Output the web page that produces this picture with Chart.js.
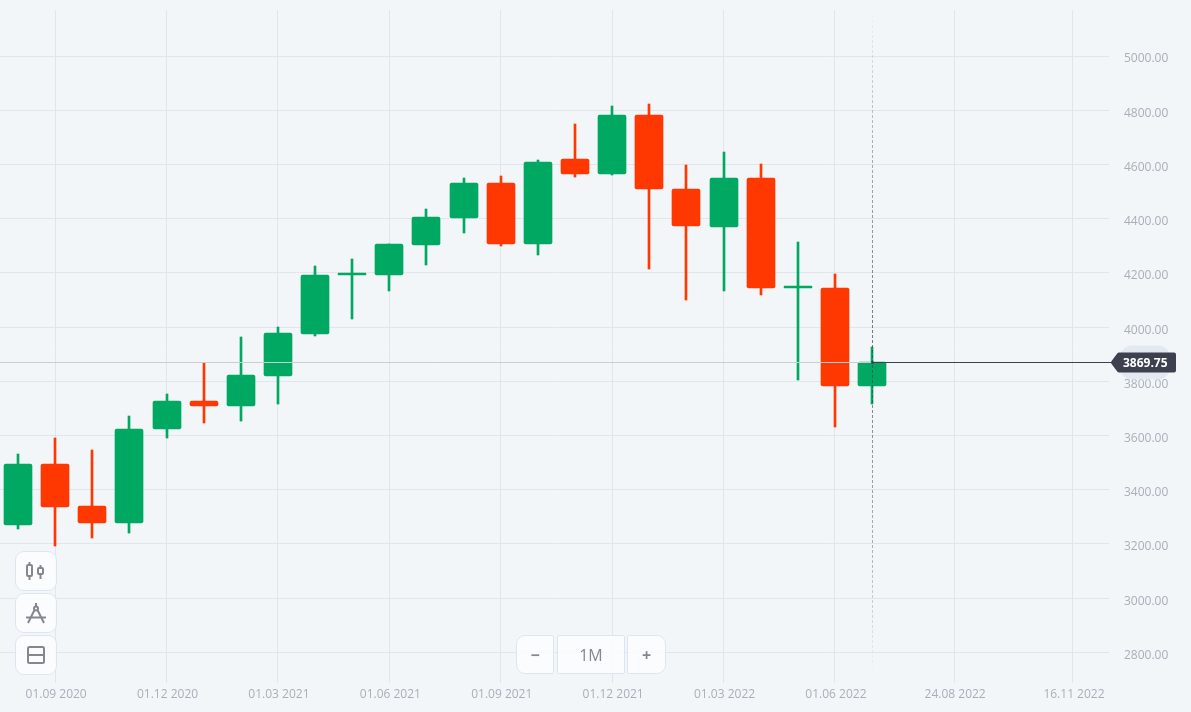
<!DOCTYPE html>
<html>
<head>
<meta charset="utf-8">
<title>1M chart</title>
<script src="https://cdn.jsdelivr.net/npm/chart.js@4"></script>
<style>
  html, body { margin: 0; padding: 0; background: #f2f6f9; overflow: hidden; }
  #wrap { position: relative; width: 1191px; height: 712px; font-family: "Open Sans", sans-serif; }
  .btn {
    position: absolute; box-sizing: border-box; display: flex; align-items: center; justify-content: center;
    background: rgba(252, 253, 255, 0.85); border: 1px solid #dce6f1; color: #85878f;
  }
  .tool { left: 15px; width: 42px; height: 40px; border-radius: 9px; }
  .zoom { top: 635px; height: 39px; font-size: 16px; }
  svg { display: block; }
</style>
</head>
<body>
<div id="wrap">
  <canvas id="priceChart"></canvas>

  <div class="btn tool" style="top:551px">
    <svg width="22" height="20" viewBox="0 0 22 20" fill="none" stroke="#85878f" stroke-width="2">
      <rect x="2" y="4" width="5" height="11" rx="1"/><path d="M4.5 1v3M4.5 15v4"/>
      <rect x="13" y="7" width="5" height="6" rx="1"/><path d="M15.5 4v3M15.5 13v5"/>
    </svg>
  </div>
  <div class="btn tool" style="top:593px">
    <svg width="22" height="22" viewBox="0 0 22 22" fill="none" stroke="#85878f" stroke-width="2">
      <path d="M11 1v4M9.5 8L3 21M12.5 8L19 21M1 15.5h20"/><circle cx="11" cy="6.5" r="2"/>
    </svg>
  </div>
  <div class="btn tool" style="top:635px">
    <svg width="20" height="20" viewBox="0 0 20 20" fill="none" stroke="#85878f" stroke-width="2">
      <rect x="2" y="2" width="16" height="16" rx="1.5"/><path d="M2 10h16"/>
    </svg>
  </div>

  <div class="btn zoom" style="left:516px;width:38px;border-radius:9px 2px 2px 9px;font-weight:700">−</div>
  <div class="btn zoom" style="left:557px;width:68px;border-radius:2px">1M</div>
  <div class="btn zoom" style="left:627px;width:39px;border-radius:2px 9px 9px 2px;font-weight:700">+</div>
</div>

<script>
// Monthly candles
const opens = [3269, 3494, 3339, 3276, 3623, 3726, 3708, 3819, 3974, 4192, 4192, 4302, 4402, 4531, 4306, 4620, 4564, 4782, 4509, 4369, 4550, 4144, 4144, 3782];
const closes = [3494, 3335, 3276, 3623, 3726, 3708, 3822, 3977, 4192, 4195, 4306, 4406, 4531, 4306, 4609, 4564, 4782, 4509, 4372, 4550, 4144, 4151, 3782, 3869.75];
const highs = [3531, 3590, 3546, 3671, 3752, 3867, 3963, 4000, 4225, 4251, 4306, 4435, 4550, 4557, 4616, 4749, 4815, 4823, 4598, 4646, 4601, 4313, 4195, 3926];
const lows = [3254, 3191, 3221, 3239, 3590, 3645, 3653, 3715, 3966, 4029, 4133, 4228, 4347, 4299, 4265, 4553, 4561, 4214, 4099, 4133, 4118, 3804, 3630, 3715];

// Time axis: tick positions in candle units, the last two sit in the empty future part
const xTickValues = [1, 4, 7, 10, 13, 16, 19, 22, 25.21, 28.41];
const xTickLabels = ["01.09 2020", "01.12 2020", "01.03 2021", "01.06 2021", "01.09 2021", "01.12 2021", "01.03 2022", "01.06 2022", "24.08 2022", "16.11 2022"];
const yTickValues = [2800, 3000, 3200, 3400, 3600, 3800, 4000, 4200, 4400, 4600, 4800, 5000];

const lastPrice = 3869.75;
const lastIndex = 23;

const UP = "#00a862";
const DOWN = "#ff3700";
const candleColors = opens.map((o, i) => (closes[i] >= o ? UP : DOWN));

// Snap the bars to whole pixels so wicks stay 2px wide
const snapBarsPlugin = {
  id: "snapBars",
  afterDatasetsUpdate(chart) {
    chart.getSortedVisibleDatasetMetas().forEach((meta) => {
      meta.data.forEach((bar) => {
        bar.x = Math.round(bar.x);
        bar.y = Math.round(bar.y);
        bar.base = Math.round(bar.base);
      });
    });
  },
};

// Price line, crosshair and the price tag
const lastPricePlugin = {
  id: "lastPrice",
  afterDatasetsDraw(chart) {
    const { ctx, scales, chartArea } = chart;
    const x = Math.round(scales.x.getPixelForValue(lastIndex)) + 0.5;
    const y = Math.round(scales.y.getPixelForValue(lastPrice)) + 0.5;
    ctx.save();
    ctx.lineWidth = 1;

    ctx.strokeStyle = "#c9ced4";
    ctx.beginPath();
    ctx.moveTo(chartArea.left, y);
    ctx.lineTo(x, y);
    ctx.stroke();

    ctx.strokeStyle = "#3d414f";
    ctx.beginPath();
    ctx.moveTo(x, y);
    ctx.lineTo(chartArea.right + 4, y);
    ctx.stroke();

    // dashed line fades out towards both ends
    const fade = ctx.createLinearGradient(0, chartArea.top, 0, chartArea.bottom - 8);
    fade.addColorStop(0, "rgba(61, 65, 79, 0)");
    fade.addColorStop(0.2, "rgba(61, 65, 79, 0.4)");
    fade.addColorStop(0.5, "rgba(61, 65, 79, 0.7)");
    fade.addColorStop(0.8, "rgba(61, 65, 79, 0.4)");
    fade.addColorStop(1, "rgba(61, 65, 79, 0)");
    ctx.strokeStyle = fade;
    ctx.setLineDash([3, 2]);
    ctx.beginPath();
    ctx.moveTo(x, chartArea.top);
    ctx.lineTo(x, chartArea.bottom - 8);
    ctx.stroke();
    ctx.setLineDash([]);

    ctx.fillStyle = "#3d414f";
    ctx.beginPath();
    ctx.arc(x, y, 1.5, 0, Math.PI * 2);
    ctx.fill();

    // tag
    const left = chartArea.right + 2;
    ctx.fillStyle = "#e2e9f1";
    ctx.beginPath();
    ctx.roundRect(left + 9, y - 17, 50, 34, 12);
    ctx.fill();

    ctx.fillStyle = "#3d414f";
    ctx.strokeStyle = "#3d414f";
    ctx.lineWidth = 4;
    ctx.lineJoin = "round";
    ctx.beginPath();
    ctx.moveTo(left + 2, y);
    ctx.lineTo(left + 8, y - 8);
    ctx.lineTo(left + 63, y - 8);
    ctx.lineTo(left + 63, y + 8);
    ctx.lineTo(left + 8, y + 8);
    ctx.closePath();
    ctx.fill();
    ctx.stroke();

    ctx.fillStyle = "#ffffff";
    ctx.font = "700 12px 'Open Sans'";
    ctx.textAlign = "left";
    ctx.textBaseline = "middle";
    ctx.fillText(lastPrice.toFixed(2), left + 12, y + 1);
    ctx.restore();
  },
};

new Chart(document.getElementById("priceChart"), {
  type: "bar",
  data: {
    datasets: [
      {
        label: "Body",
        data: opens.map((o, i) => ({ x: i, y: [o, closes[i]] })),
        backgroundColor: candleColors,
        barThickness: 28,
        minBarLength: 2,
        borderRadius: 2,
        borderSkipped: false,
        grouped: false,
      },
      {
        label: "Wick",
        data: highs.map((h, i) => ({ x: i, y: [lows[i], h] })),
        backgroundColor: candleColors,
        barThickness: 2,
        grouped: false,
      },
    ],
  },
  options: {
    responsive: true,
    maintainAspectRatio: false,
    animation: false,
    layout: { padding: { top: 10 } },
    scales: {
      x: {
        type: "linear",
        offset: false,
        min: -0.485,
        max: 29.38,
        afterBuildTicks: (scale) => {
          scale.ticks = xTickValues.map((v) => ({ value: v }));
        },
        afterFit: (scale) => {
          scale.height = 29;
          scale.paddingLeft = 0;
          scale.paddingRight = 0;
        },
        border: { display: false },
        grid: { color: "#e1e6ec", drawTicks: false, offset: false },
        ticks: {
          autoSkip: false,
          maxRotation: 0,
          padding: 4,
          labelOffset: 1,
          color: "#a9afb9",
          font: { family: "'Open Sans'", size: 12 },
          callback: (value) => xTickLabels[xTickValues.indexOf(value)],
        },
      },
      y: {
        position: "right",
        min: 2687,
        max: 5170,
        afterBuildTicks: (scale) => {
          scale.ticks = yTickValues.map((v) => ({ value: v }));
        },
        afterFit: (scale) => {
          scale.width = 82;
          scale.paddingTop = 0;
          scale.paddingBottom = 0;
        },
        border: { display: false },
        grid: { color: "#e1e6ec", drawTicks: false },
        ticks: {
          padding: 15,
          labelOffset: 3,
          color: "#a9afb9",
          font: { family: "'Open Sans'", size: 12 },
          callback: (value) => value.toFixed(2),
        },
      },
    },
    plugins: {
      legend: { display: false },
      tooltip: { enabled: false },
    },
  },
  plugins: [snapBarsPlugin, lastPricePlugin],
});
</script>
</body>
</html>
